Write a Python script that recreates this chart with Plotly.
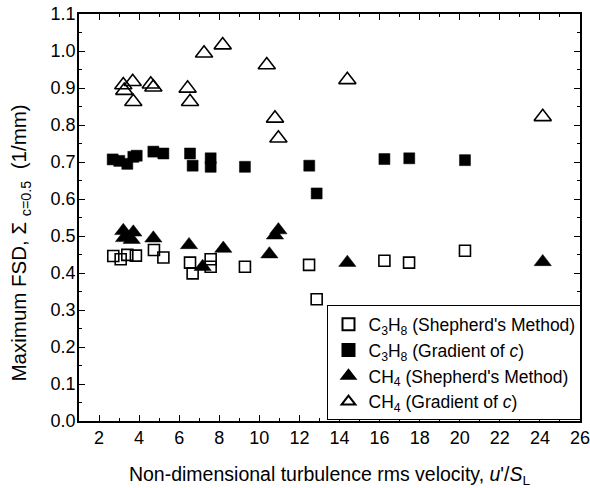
import plotly.graph_objects as go

# C3H8 (Shepherd's Method) - open squares
c3h8_shep_x = [2.71, 3.08, 3.41, 3.84, 4.74, 5.21, 6.54, 6.67, 7.57, 7.57, 9.28, 12.48, 12.86, 16.24, 17.47, 20.26]
c3h8_shep_y = [0.446, 0.437, 0.449, 0.447, 0.462, 0.442, 0.428, 0.399, 0.437, 0.417, 0.417, 0.422, 0.329, 0.433, 0.428, 0.460]

# C3H8 (Gradient of c) - filled squares
c3h8_grad_x = [2.68, 3.01, 3.41, 3.71, 3.88, 4.71, 5.21, 6.54, 6.67, 7.57, 7.57, 9.28, 12.49, 12.86, 16.24, 17.48, 20.26]
c3h8_grad_y = [0.707, 0.703, 0.695, 0.714, 0.717, 0.728, 0.723, 0.723, 0.690, 0.710, 0.687, 0.687, 0.690, 0.615, 0.708, 0.710, 0.705]

# CH4 (Shepherd's Method) - filled triangles
ch4_shep_x = [3.21, 3.25, 3.71, 3.63, 4.71, 6.49, 7.17, 8.20, 10.50, 10.78, 10.95, 14.39, 24.14]
ch4_shep_y = [0.514, 0.495, 0.510, 0.490, 0.494, 0.476, 0.417, 0.466, 0.451, 0.502, 0.516, 0.428, 0.430]

# CH4 (Gradient of c) - open triangles
ch4_grad_x = [3.21, 3.26, 3.68, 3.71, 4.58, 4.71, 6.42, 6.54, 7.24, 8.17, 10.37, 10.78, 10.95, 14.39, 24.14]
ch4_grad_y = [0.908, 0.893, 0.917, 0.863, 0.910, 0.902, 0.899, 0.863, 0.994, 1.016, 0.962, 0.818, 0.764, 0.922, 0.822]

names = [
    "C<sub>3</sub>H<sub>8</sub> (Shepherd's Method)",
    "C<sub>3</sub>H<sub>8</sub> (Gradient of <i>c</i>)",
    "CH<sub>4</sub> (Shepherd's Method)",
    "CH<sub>4</sub> (Gradient of <i>c</i>)",
]

x_title = "Non-dimensional turbulence rms velocity, <i>u</i>'/<i>S</i><sub>L</sub>"
y_title = "Maximum FSD, Σ <sub>c=0.5</sub>  (1/mm)"

FONT = "Arial"

fig = go.Figure()
fig.add_trace(go.Scatter(x=c3h8_shep_x, y=c3h8_shep_y, mode="markers", name=names[0],
                         marker=dict(symbol="square-open", size=11, color="black", line=dict(width=1.6, color="black"))))
fig.add_trace(go.Scatter(x=c3h8_grad_x, y=c3h8_grad_y, mode="markers", name=names[1],
                         marker=dict(symbol="square", size=11, color="black", line=dict(width=0.5, color="black"))))
fig.add_trace(go.Scatter(x=ch4_shep_x, y=ch4_shep_y, mode="markers", name=names[2],
                         marker=dict(symbol="triangle-up", size=15, color="black", line=dict(width=0.5, color="black"))))
fig.add_trace(go.Scatter(x=ch4_grad_x, y=ch4_grad_y, mode="markers", name=names[3],
                         marker=dict(symbol="triangle-up-open", size=15, color="black", line=dict(width=1.6, color="black"))))

axis_common = dict(
    showline=True, linecolor="black", linewidth=1.5, mirror="ticks",
    ticks="inside", tickcolor="black", tickwidth=1.2, ticklen=6,
    showgrid=False, zeroline=False, automargin=False, ticklabeloverflow="allow",
    tickfont=dict(family=FONT, size=18, color="black"),
)

fig.update_xaxes(range=[1, 26], tick0=2, dtick=2,
                 minor=dict(ticks="inside", ticklen=3, tickcolor="black", tickwidth=1.2, dtick=1, tick0=1),
                 title=dict(text=x_title, font=dict(family=FONT, size=19.5, color="black"), standoff=20),
                 **axis_common)
fig.update_yaxes(range=[0, 1.1], tick0=0, dtick=0.1, tickformat=".1f", ticklabelstandoff=-2,
                 minor=dict(ticks="inside", ticklen=3, tickcolor="black", tickwidth=1.2, dtick=0.05, tick0=0),
                 **axis_common)

fig.add_annotation(text=y_title, textangle=-90, xref="paper", yref="paper",
                   x=-0.1158, y=0.4386, xanchor="center", yanchor="middle", showarrow=False,
                   font=dict(family=FONT, size=20.5, color="black"))

fig.update_layout(
    width=590, height=488,
    margin=dict(l=79, r=10, t=14, b=67, autoexpand=False),
    plot_bgcolor="white", paper_bgcolor="white",
    font=dict(family=FONT, color="black"),
    legend=dict(x=0.496, y=0.284, xanchor="left", yanchor="top",
                bordercolor="black", borderwidth=1, bgcolor="white",
                font=dict(family=FONT, size=17.5, color="black"),
                tracegroupgap=0, itemsizing="constant"),
    showlegend=True,
)

fig.write_html("out.html")
